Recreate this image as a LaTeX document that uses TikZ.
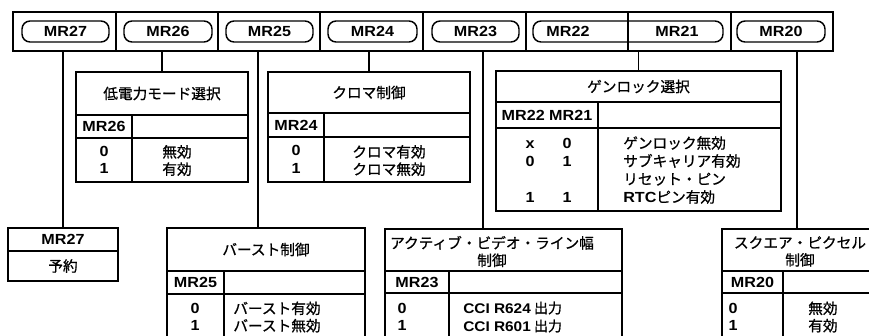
\documentclass[tikz,border=0pt]{standalone}
\usepackage{fontspec}
\setmainfont{Liberation Sans}[FakeStretch=1.1]
\newfontfamily\jp{Noto Sans CJK JP}[FakeBold=0.8]
\usetikzlibrary{positioning}
\newcommand{\pxu}{0.75pt}
\newcommand{\lblfont}{\fontsize{11}{13}\selectfont\bfseries}
\newcommand{\jpfont}{\jp\fontsize{11}{13}\selectfont}
\newcommand{\jpfontg}{\jp\fontsize{11}{13.5}\selectfont}
\newcommand{\lat}[1]{{\rmfamily\bfseries #1}}

\begin{document}
\begin{tikzpicture}[x=0.75pt, y=-0.75pt,
    regcell/.style={draw, line width=1pt, inner sep=0pt, outer sep=0pt, anchor=north west, minimum height=39*\pxu},
    pill/.style={draw, line width=1.1pt, rounded corners=6pt, minimum height=21*\pxu, inner sep=0pt, font=\lblfont},
    tcell/.style={draw, line width=1.4pt, inner sep=0pt, outer sep=0pt, anchor=north west},
    wire/.style={line width=1.3pt},
    bits/.style={font=\lblfont, align=center, inner sep=0pt},
    jtxt/.style={font=\jpfont, align=center, inner sep=0pt}]
  \fill[white] (0,0) rectangle (869,336);
  \useasboundingbox (0,0) rectangle (869,336);
  \clip (0,0) rectangle (869,336);

  % register bar
  \foreach \xa/\xb/\nm in {13/116/27, 116/218/26, 218/320/25, 320/423/24, 423/526/23, 526/628/22, 628/731/21, 731/833/20}
    \node[regcell, minimum width={(\xb-\xa)*\pxu}] (c\nm) at (\xa,12) {};
  \node[pill, minimum width=87*\pxu] (p27) at (65.5,31.5) {MR27};
  \node[pill, minimum width=88*\pxu] (p26) at (168,31.5) {MR26};
  \node[pill, minimum width=87*\pxu] (p25) at (269.5,31.5) {MR25};
  \node[pill, minimum width=89*\pxu] (p24) at (372.5,31.5) {MR24};
  \node[pill, minimum width=87*\pxu] (p23) at (475.5,31.5) {MR23};
  \node[pill, minimum width=190*\pxu] (p2221) at (628,31.5) {};
  \node[font=\lblfont, inner sep=0pt] (t22) at (568,31.5) {MR22};
  \node[font=\lblfont, inner sep=0pt] (t21) at (677,31.5) {MR21};
  \node[pill, minimum width=88*\pxu] (p20) at (781,31.5) {MR20};

  % low power mode
  \node[tcell, minimum width=172*\pxu, minimum height=43*\pxu, font=\jpfont] (lpT) at (76,72) {低電力モード選択};
  \node[tcell, minimum width=56*\pxu, minimum height=23*\pxu, font=\lblfont] (lpH) at (lpT.south west) {MR26};
  \node[tcell, minimum width=116*\pxu, minimum height=23*\pxu] (lpE) at (lpH.north east) {};
  \node[tcell, minimum width=56*\pxu, minimum height=44*\pxu, font=\lblfont, align=center] (lpB) at (lpH.south west) {0\\1};
  \node[tcell, minimum width=116*\pxu, minimum height=44*\pxu] (lpD) at (lpB.north east) {};
  \node[jtxt] (lpV) at (177,160.5) {無効\\有効};

  % chroma
  \node[tcell, minimum width=202*\pxu, minimum height=41*\pxu, font=\jpfont] (crT) at (268,72) {クロマ制御};
  \node[tcell, minimum width=56*\pxu, minimum height=24*\pxu, font=\lblfont] (crH) at (crT.south west) {MR24};
  \node[tcell, minimum width=146*\pxu, minimum height=24*\pxu] (crE) at (crH.north east) {};
  \node[tcell, minimum width=56*\pxu, minimum height=45*\pxu, font=\lblfont, align=center] (crB) at (crH.south west) {0\\1};
  \node[tcell, minimum width=146*\pxu, minimum height=45*\pxu] (crD) at (crB.north east) {};
  \node[jtxt] (crV) at (389,160.5) {クロマ有効\\クロマ無効};

  % genlock
  \node[tcell, minimum width=285*\pxu, minimum height=31*\pxu, font=\jpfont] (glT) at (496,71) {ゲンロック選択};
  \node[tcell, minimum width=102*\pxu, minimum height=26*\pxu, font=\lblfont] (glH) at (glT.south west) {MR22 MR21};
  \node[tcell, minimum width=183*\pxu, minimum height=26*\pxu] (glE) at (glH.north east) {};
  \node[tcell, minimum width=102*\pxu, minimum height=83*\pxu] (glB) at (glH.south west) {};
  \node[tcell, minimum width=183*\pxu, minimum height=83*\pxu] (glD) at (glB.north east) {};
  \node[bits, font=\fontsize{11}{13.5}\selectfont\bfseries] (glX) at (530,170) {\vphantom{0}x\\0\\\mbox{}\\1};
  \node[bits, font=\fontsize{11}{13.5}\selectfont\bfseries] (glY) at (567,170) {0\\1\\\mbox{}\\1};
  \node[jtxt, font=\jpfontg, align=left, anchor=west] (glV) at (623,170) {ゲンロック無効\\サブキャリア有効\\リセット・ピン\\\lat{RTC}ピン有効};

  % reserved
  \node[tcell, minimum width=110*\pxu, minimum height=23*\pxu, font=\lblfont] (m27H) at (8,228) {MR27};
  \node[tcell, minimum width=110*\pxu, minimum height=30*\pxu, font=\jpfont] (m27V) at (m27H.south west) {予約};

  % burst
  \node[tcell, minimum width=198*\pxu, minimum height=43*\pxu, font=\jpfont] (buT) at (167,228) {バースト制御};
  \node[tcell, minimum width=57*\pxu, minimum height=23*\pxu, font=\lblfont] (buH) at (buT.south west) {MR25};
  \node[tcell, minimum width=141*\pxu, minimum height=23*\pxu] (buE) at (buH.north east) {};
  \node[tcell, minimum width=57*\pxu, minimum height=60*\pxu] (buB) at (buH.south west) {};
  \node[tcell, minimum width=141*\pxu, minimum height=60*\pxu] (buD) at (buB.north east) {};
  \node[bits] (buN) at (195,317) {0\\1};
  \node[jtxt] (buV) at (277,317) {バースト有効\\バースト無効};

  % active video line
  \node[tcell, minimum width=237*\pxu, minimum height=42*\pxu] (avT) at (385,229) {};
  \node[jtxt] (avL) at (492,251.5) {アクティブ・ビデオ・ライン幅\\制御};
  \node[tcell, minimum width=64*\pxu, minimum height=22*\pxu, font=\lblfont] (avH) at (avT.south west) {MR23};
  \node[tcell, minimum width=173*\pxu, minimum height=22*\pxu] (avE) at (avH.north east) {};
  \node[tcell, minimum width=64*\pxu, minimum height=60*\pxu] (avB) at (avH.south west) {};
  \node[tcell, minimum width=173*\pxu, minimum height=60*\pxu] (avD) at (avB.north east) {};
  \node[bits] (avN) at (402,317) {0\\1};
  \node[jtxt, font=\jp\fontsize{10.5}{13.5}\selectfont, align=left, anchor=west] (avV) at (463,317) {\lat{CCI R624} 出力\\\lat{CCI R601} 出力};

  % square pixel
  \node[tcell, minimum width=176*\pxu, minimum height=42*\pxu] (sqT) at (722,229) {};
  \node[jtxt] (sqL) at (800,251.5) {スクエア・ピクセル\\制御};
  \node[tcell, minimum width=61*\pxu, minimum height=22*\pxu, font=\lblfont] (sqH) at (sqT.south west) {MR20};
  \node[tcell, minimum width=115*\pxu, minimum height=22*\pxu] (sqE) at (sqH.north east) {};
  \node[tcell, minimum width=61*\pxu, minimum height=60*\pxu] (sqB) at (sqH.south west) {};
  \node[tcell, minimum width=115*\pxu, minimum height=60*\pxu] (sqD) at (sqB.north east) {};
  \node[bits] (sqN) at (733,317) {0\\1};
  \node[jtxt, align=left, anchor=west] (sqV) at (808,317) {無効\\有効};

  % connectors
  \draw[wire] (m27H.north) -- (m27H.north |- c27.south);
  \draw[wire] (lpT.north) -- (lpT.north |- c26.south);
  \coordinate (j25) at (258,51);
  \draw[wire] (j25) -- (j25 |- buT.north);
  \draw[wire] (crT.north) -- (crT.north |- c24.south);
  \coordinate (j23) at (483,51);
  \draw[wire] (j23) -- (j23 |- avT.north);
  \draw[wire] (glT.north) -- (glT.north |- c22.south);
  \coordinate (j20) at (797,51);
  \draw[wire] (j20) -- (j20 |- sqT.north);
\end{tikzpicture}
\end{document}
